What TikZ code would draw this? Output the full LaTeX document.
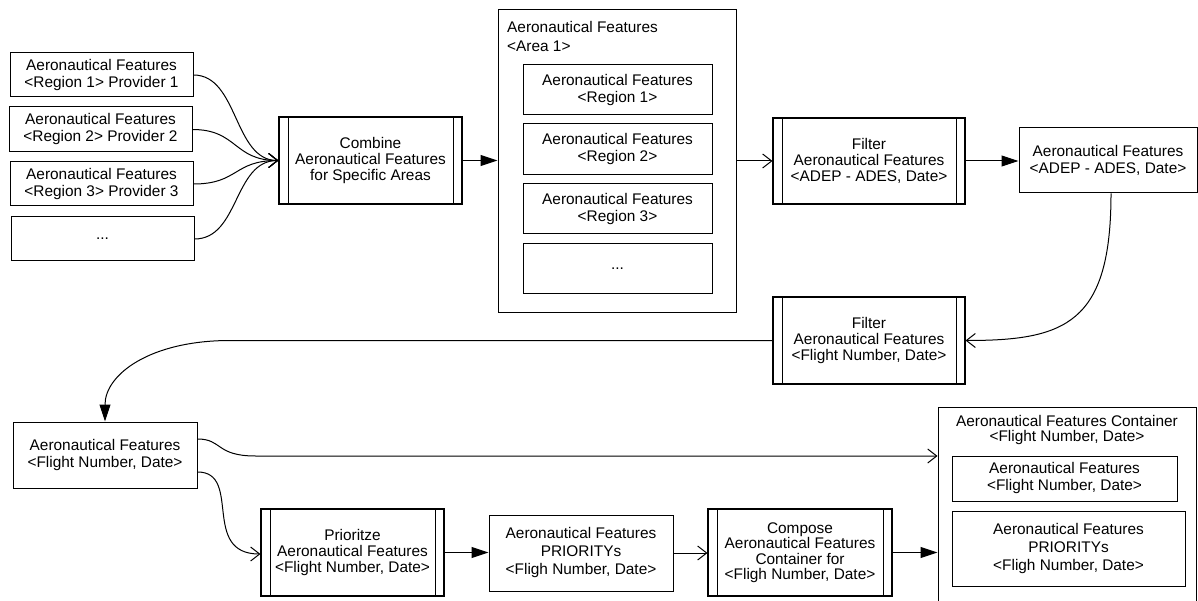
\documentclass[tikz,border=0pt]{standalone}
\usepackage{fontspec}
\setmainfont{Liberation Sans}
\usetikzlibrary{arrows.meta,calc}
\tikzset{
  box/.style={draw, line width=1pt, rectangle, inner sep=0pt, align=center,
    font=\fontsize{15.4}{17}\selectfont},
  proc/.style={box, line width=1.1pt, font=\fontsize{15.4}{16}\selectfont,
    path picture={
      \draw[line width=0.9pt] ([xshift=9pt]path picture bounding box.north west) -- ([xshift=9pt]path picture bounding box.south west);
      \draw[line width=0.9pt] ([xshift=-9pt]path picture bounding box.north east) -- ([xshift=-9pt]path picture bounding box.south east);
    }},
  titletext/.style={inner sep=0pt, font=\fontsize{15.4}{19}\selectfont},
  fillarrow/.style={-{Triangle[length=17pt,width=11pt]}, line width=1pt},
  openarrow/.style={-{Straight Barb[length=9pt,width=14pt,line width=1pt]}, line width=1pt},
}
\begin{document}
\begin{tikzpicture}[x=1pt,y=-1pt]
\useasboundingbox (0,0) rectangle (1198,601);
% left inputs
\node[box, minimum width=183pt, minimum height=44pt] (p1) at (101.5,75) {Aeronautical Features\\<Region 1> Provider 1};
\node[box, minimum width=183pt, minimum height=45pt] (p2) at (100.5,129.5) {Aeronautical Features\\<Region 2> Provider 2};
\node[box, minimum width=183pt, minimum height=44pt] (p3) at (101.5,184) {Aeronautical Features\\<Region 3> Provider 3};
\node[box, minimum width=183pt, minimum height=44pt] (p4) at (102.5,239) {...};
% combine
\node[proc, minimum width=183pt, minimum height=87pt] (combine) at (370.5,160.5) {Combine\\Aeronautical Features\\for Specific Areas};
% area
\node[box, minimum width=238pt, minimum height=302pt] (area) at (617,161) {};
\node[titletext, anchor=west, align=left] (areatitle) at (507,36.5) {Aeronautical Features\\<Area 1>};
\node[box, minimum width=189pt, minimum height=50pt] (r1) at (617.5,90) {Aeronautical Features\\<Region 1>};
\node[box, minimum width=189pt, minimum height=51pt] (r2) at (617.5,149.5) {Aeronautical Features\\<Region 2>};
\node[box, minimum width=189pt, minimum height=50pt] (r3) at (617.5,209) {Aeronautical Features\\<Region 3>};
\node[box, minimum width=189pt, minimum height=50pt] (r4) at (617.5,269) {...};
% filter 1
\node[proc, minimum width=192pt, minimum height=86pt] (filter1) at (869,161) {Filter\\Aeronautical Features\\<ADEP - ADES, Date>};
\node[box, minimum width=178pt, minimum height=65pt, font=\fontsize{15.4}{17.5}\selectfont] (adep) at (1108,160.5) {Aeronautical Features\\<ADEP - ADES, Date>};
% filter 2
\node[proc, minimum width=192pt, minimum height=87pt] (filter2) at (869,340.5) {Filter\\Aeronautical Features\\<Flight Number, Date>};
\node[box, minimum width=184pt, minimum height=66pt] (fn) at (105,455) {Aeronautical Features\\<Flight Number, Date>};
% bottom row
\node[proc, minimum width=183pt, minimum height=87pt] (prio) at (352.5,552.5) {Prioritze\\Aeronautical Features\\<Flight Number, Date>};
\node[box, minimum width=184pt, minimum height=76pt, font=\fontsize{15.4}{18}\selectfont] (prs) at (581,553) {Aeronautical Features\\PRIORITYs\\<Fligh Number, Date>};
\node[proc, minimum width=184pt, minimum height=87pt, font=\fontsize{15.4}{15.5}\selectfont] (compose) at (800,552.5) {Compose\\Aeronautical Features\\Container for\\<Fligh Number, Date>};
% container
\node[box, minimum width=258pt, minimum height=195pt] (cont) at (1067,504.5) {};
\node[titletext, align=center, font=\fontsize{15.4}{15}\selectfont] (conttitle) at (1067,430.5) {Aeronautical Features Container\\<Flight Number, Date>};
\node[box, minimum width=225pt, minimum height=45pt] (ci1) at (1064.5,478.5) {Aeronautical Features\\<Flight Number, Date>};
\node[box, minimum width=233pt, minimum height=75pt, font=\fontsize{15.4}{18}\selectfont] (ci2) at (1068.5,548.5) {Aeronautical Features\\PRIORITYs\\<Fligh Number, Date>};
% connectors
\foreach \n in {p1,p2,p3,p4}
  \draw[openarrow] (\n.east) .. controls +(45,0) and +(-45,0) .. (combine.west);
\draw[fillarrow] (combine.east) -- (combine.east -| area.west);
\draw[openarrow] (area.east |- filter1.west) -- (filter1.west);
\draw[fillarrow] (filter1.east) -- (filter1.east -| adep.west);
\draw[openarrow] ([xshift=3pt]adep.south) .. controls +(0,130) and +(100,0) .. (filter2.east);
\draw[fillarrow] (filter2.west) -- ($(fn.north |- filter2.west)+(125,0)$) .. controls +(-80,0) and +(0,-47) .. (fn.north);
\draw[openarrow] ([yshift=16pt]fn.east) .. controls +(25,0) and +(-40,0) .. ($(fn.east)+(58,1)$) -- ([yshift=48.5pt]cont.west);
\draw[openarrow] ([yshift=-17pt]fn.east) .. controls +(45,0) and +(-60,0) .. ([yshift=-1.5pt]prio.west);
\draw[fillarrow] (prio.east) -- (prio.east -| prs.west);
\draw[openarrow] (prs.east) -- (prs.east -| compose.west);
\draw[fillarrow] (compose.east) -- (compose.east -| cont.west);
\end{tikzpicture}
\end{document}
